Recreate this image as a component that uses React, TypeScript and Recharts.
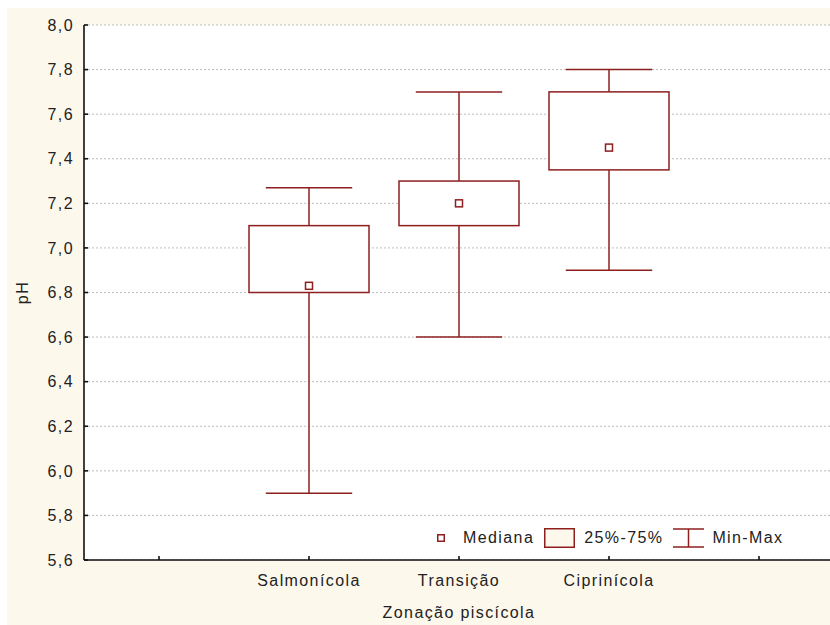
import { Bar, CartesianGrid, ComposedChart, XAxis, YAxis } from "recharts";

// pH by fish zone (box = 25%-75%, whiskers = min-max, square = median)
const zones = ["Salmonícola", "Transição", "Ciprinícola"];
const minValues = [5.9, 6.6, 6.9];
const q1Values = [6.8, 7.1, 7.35];
const medianValues = [6.83, 7.2, 7.45];
const q3Values = [7.1, 7.3, 7.7];
const maxValues = [7.27, 7.7, 7.8];
const yTicks = [5.6, 5.8, 6.0, 6.2, 6.4, 6.6, 6.8, 7.0, 7.2, 7.4, 7.6, 7.8, 8.0];

const RED = "#8e1f1f";
const TEXT = "#222";
const CREAM = "#fdf8ec";
const AXIS = { stroke: "#111", strokeWidth: 1.6 };

const rows = [
  { name: "", range: null },
  ...zones.map((name, i) => ({
    name,
    range: [minValues[i], maxValues[i]],
    min: minValues[i],
    q1: q1Values[i],
    median: medianValues[i],
    q3: q3Values[i],
    max: maxValues[i],
  })),
  { name: "", range: null },
];

const BoxShape = (props: any) => {
  const { x, y, width, height, payload } = props;
  if (!payload || payload.range == null) return <g />;
  const top = Math.min(y, y + height);
  const bottom = Math.max(y, y + height);
  const k = (bottom - top) / (payload.max - payload.min);
  const py = (v: number) => bottom - (v - payload.min) * k;
  const cx = x + width / 2;
  const cap = width * 0.36;
  return (
    <g stroke={RED} strokeWidth={1.5} fill="none">
      <line x1={cx} x2={cx} y1={py(payload.max)} y2={py(payload.q3)} />
      <line x1={cx} x2={cx} y1={py(payload.q1)} y2={py(payload.min)} />
      <line x1={cx - cap} x2={cx + cap} y1={py(payload.max)} y2={py(payload.max)} />
      <line x1={cx - cap} x2={cx + cap} y1={py(payload.min)} y2={py(payload.min)} />
      <rect x={x} y={py(payload.q3)} width={width} height={py(payload.q1) - py(payload.q3)} fill="#fff" />
      <rect x={cx - 3.5} y={py(payload.median) - 3.5} width={7} height={7} fill="#fff" />
    </g>
  );
};

const comma = (v: number) => v.toFixed(1).replace(".", ",");

const LegendBox = () => (
  <div
    style={{
      position: "absolute",
      left: 430,
      top: 520,
      height: 20,
      display: "flex",
      alignItems: "center",
      fontSize: 16,
      letterSpacing: 1.4,
      color: TEXT,
    }}
  >
    <svg width={8} height={8} style={{ marginRight: 18 }}>
      <rect x={0.75} y={0.75} width={6.5} height={6.5} fill="#fff" stroke={RED} strokeWidth={1.5} />
    </svg>
    <span style={{ marginRight: 10 }}>Mediana</span>
    <svg width={31} height={20} style={{ marginRight: 9 }}>
      <rect x={0.75} y={0.75} width={29.5} height={18.5} fill={CREAM} stroke={RED} strokeWidth={1.5} />
    </svg>
    <span style={{ marginRight: 10 }}>25%-75%</span>
    <svg width={31} height={20} style={{ marginRight: 8 }}>
      <g stroke={RED} strokeWidth={1.5}>
        <line x1={0} x2={31} y1={1} y2={1} />
        <line x1={0} x2={31} y1={19} y2={19} />
        <line x1={15.5} x2={15.5} y1={1} y2={19} />
      </g>
    </svg>
    <span>Min-Max</span>
  </div>
);

export default function App() {
  return (
    <div
      style={{
        position: "fixed",
        left: 7,
        top: 8,
        width: 823,
        height: 617,
        overflow: "hidden",
        background: CREAM,
        fontFamily: "'Liberation Sans', Arial, sans-serif",
      }}
    >
      <ComposedChart
        width={840}
        height={617}
        data={rows}
        margin={{ top: 17, right: 13, bottom: 0, left: 0 }}
      >
        <CartesianGrid vertical={false} stroke="#bdbdbd" strokeDasharray="2 2" fill="#fff" />
        <XAxis
          xAxisId="top"
          orientation="top"
          dataKey="name"
          height={0}
          tick={false}
          tickSize={-4}
          axisLine={AXIS}
          tickLine={AXIS}
          interval={0}
        />
        <XAxis
          dataKey="name"
          height={65}
          interval={0}
          tickSize={-4}
          tickMargin={19}
          axisLine={AXIS}
          tickLine={AXIS}
          tick={{ fill: TEXT, fontSize: 16, letterSpacing: 1.4 }}
          label={{
            value: "Zonação piscícola",
            position: "insideBottom",
            offset: 7,
            fill: TEXT,
            fontSize: 16,
            letterSpacing: 1.4,
          }}
        />
        <YAxis
          type="number"
          domain={[5.6, 8.0]}
          ticks={yTicks}
          allowDataOverflow
          width={77}
          tickSize={-4}
          tickMargin={14}
          axisLine={AXIS}
          tickLine={AXIS}
          tickFormatter={comma}
          tick={{ fill: TEXT, fontSize: 16, letterSpacing: 1.4 }}
          label={{
            content: ({ viewBox }: any) => (
              <text
                x={viewBox.x + 21}
                y={viewBox.y + viewBox.height / 2}
                transform={`rotate(-90 ${viewBox.x + 21} ${viewBox.y + viewBox.height / 2})`}
                textAnchor="middle"
                fill={TEXT}
                fontSize={16}
                letterSpacing={1.4}
              >
                pH
              </text>
            ),
          }}
        />
        <Bar
          dataKey={(d: any) => d.range}
          barSize={120}
          shape={BoxShape}
          isAnimationActive={false}
        />
      </ComposedChart>
      <LegendBox />
    </div>
  );
}
